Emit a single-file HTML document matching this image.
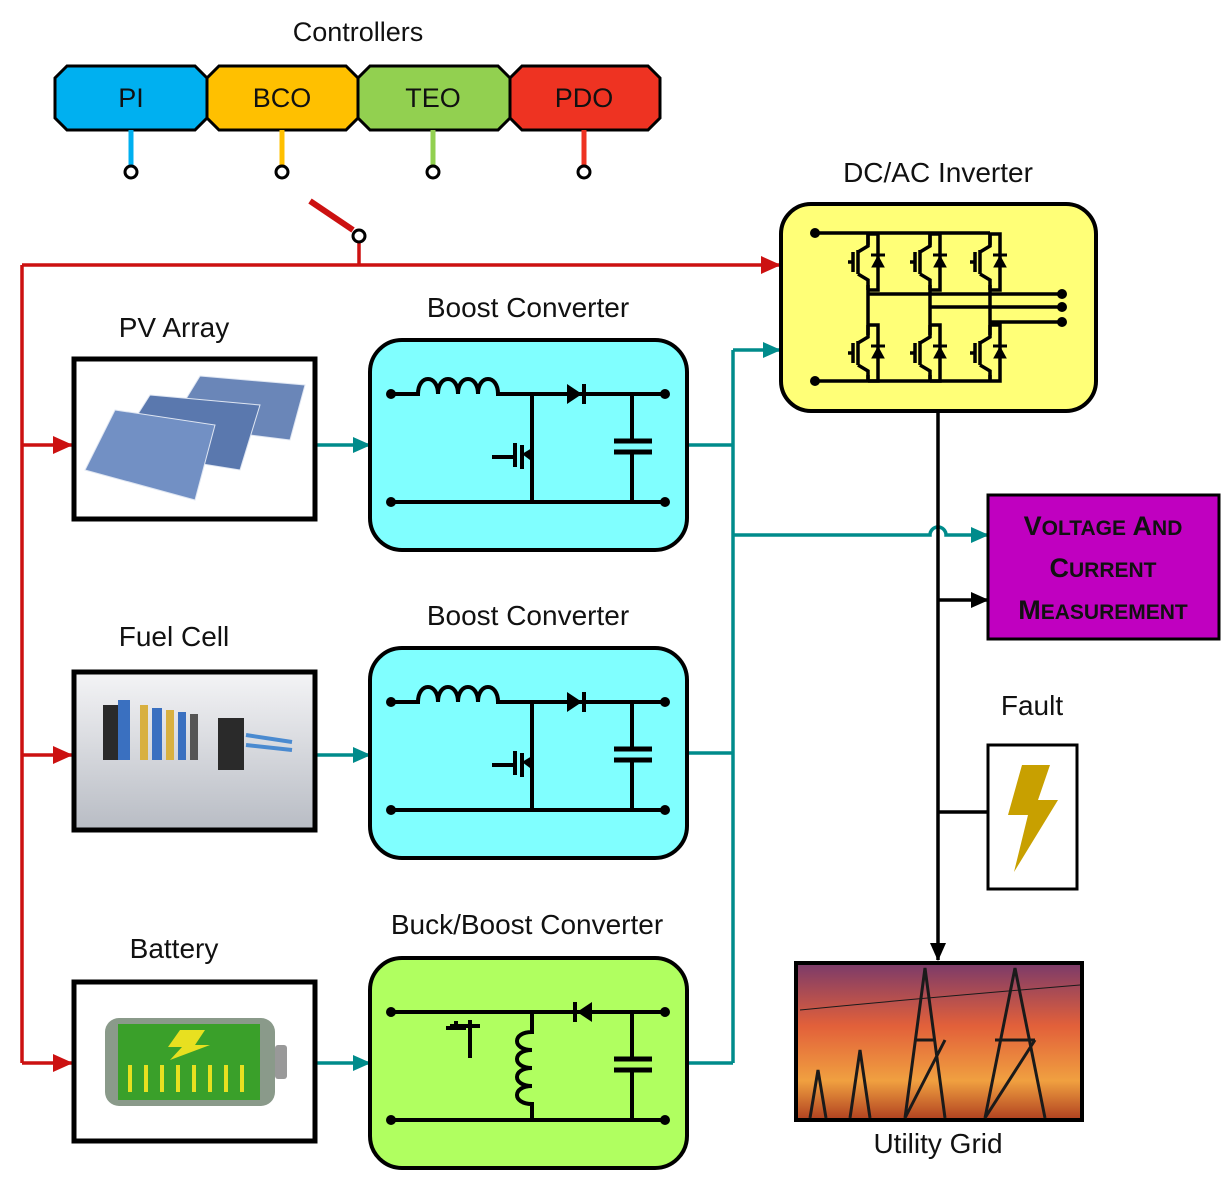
<!DOCTYPE html>
<html><head><meta charset="utf-8"><style>body{margin:0;background:#fff}svg{display:block}text{font-family:"Liberation Sans",sans-serif;fill:#111}</style></head><body>
<svg width="1231" height="1180" viewBox="0 0 1231 1180" xmlns="http://www.w3.org/2000/svg">
<defs>
<marker id="ar" markerWidth="20" markerHeight="18" refX="19" refY="9" orient="auto" markerUnits="userSpaceOnUse"><path d="M0,0 L20,9 L0,18z" fill="#cc1111"/></marker>
<marker id="at" markerWidth="18" markerHeight="16" refX="17" refY="8" orient="auto" markerUnits="userSpaceOnUse"><path d="M0,0 L18,8 L0,16z" fill="#008b8b"/></marker>
<marker id="ak" markerWidth="18" markerHeight="16" refX="17" refY="8" orient="auto" markerUnits="userSpaceOnUse"><path d="M0,0 L18,8 L0,16z" fill="#000"/></marker>
<linearGradient id="sky" x1="0" y1="0" x2="0" y2="1"><stop offset="0" stop-color="#7a3a6a"/><stop offset="0.4" stop-color="#e2603a"/><stop offset="0.75" stop-color="#f0a040"/><stop offset="1" stop-color="#b04020"/></linearGradient>
<linearGradient id="fc" x1="0" y1="0" x2="0" y2="1"><stop offset="0" stop-color="#f4f4f6"/><stop offset="1" stop-color="#b8bcc4"/></linearGradient>
<g id="boost">
<rect x="0" y="0" width="317" height="210" rx="32" fill="currentColor" stroke="#000" stroke-width="4"/>
<g stroke="#000" stroke-width="4" fill="none">
<path d="M21,54 H48 c0,-20 20,-20 20,0 c0,-20 20,-20 20,0 c0,-20 20,-20 20,0 c0,-20 20,-20 20,0 H295"/>
<path d="M21,162 H295"/>
<path d="M162,54 V162"/>
<path d="M262,54 V101 M262,112 V162"/>
<path d="M244,101 H282 M244,112 H282" stroke-width="5"/>
<path d="M122,117 H145 M145,103 V127 M152,105 V129"/>
</g>
<path d="M197,44 L212,54 L197,64z" fill="#000"/><path d="M214,44 V64" stroke="#000" stroke-width="4"/>
<path d="M152,114 L162,108 L160,120z" fill="#000"/>
<circle cx="21" cy="54" r="5"/><circle cx="295" cy="54" r="5"/><circle cx="21" cy="162" r="5"/><circle cx="295" cy="162" r="5"/>
</g>
<g id="igbt" stroke="#000" stroke-width="3.5" fill="none">
<path d="M0,-28 V-16 L-10,-10 M-10,12 L0,18 V28 M-10,-12 V12 M-15,-10 V10 M-20,0 H-15 M0,-28 H10 V28 H0"/>
<path d="M4,5 L10,-6 L16,5z" fill="#000" stroke-width="1"/><path d="M3,-7 H17" stroke-width="3"/>
</g>
</defs>

<text x="358" y="41" font-size="27" text-anchor="middle">Controllers</text>
<g stroke="#000" stroke-width="3">
<path d="M67,66 H195 L207,78 V118 L195,130 H67 L55,118 V78z" fill="#00b0f0"/>
<path d="M219,66 H346 L358,78 V118 L346,130 H219 L207,118 V78z" fill="#ffc000"/>
<path d="M370,66 H498 L510,78 V118 L498,130 H370 L358,118 V78z" fill="#92d050"/>
<path d="M522,66 H648 L660,78 V118 L648,130 H522 L510,118 V78z" fill="#ee3322"/>
</g>
<g font-size="27" text-anchor="middle"><text x="131" y="107">PI</text><text x="282" y="107">BCO</text><text x="433" y="107">TEO</text><text x="584" y="107">PDO</text></g>
<g stroke-width="5"><path d="M131,130 V166" stroke="#00b0f0"/><path d="M282,130 V166" stroke="#ffc000"/><path d="M433,130 V166" stroke="#92d050"/><path d="M584,130 V166" stroke="#ee3322"/></g>
<g fill="#fff" stroke="#000" stroke-width="3"><circle cx="131" cy="172" r="6"/><circle cx="282" cy="172" r="6"/><circle cx="433" cy="172" r="6"/><circle cx="584" cy="172" r="6"/></g>

<g stroke="#cc1111" stroke-width="3.5" fill="none">
<path d="M310,201 L353,230" stroke-width="6"/>
<path d="M359,242 V265"/>
<path d="M22,265 H780" marker-end="url(#ar)"/>
<path d="M22,265 V1063"/>
<path d="M22,445 H72" marker-end="url(#ar)"/>
<path d="M22,755 H72" marker-end="url(#ar)"/>
<path d="M22,1063 H72" marker-end="url(#ar)"/>
</g>
<circle cx="359" cy="236" r="6" fill="#fff" stroke="#000" stroke-width="3"/>

<g stroke="#008b8b" stroke-width="3.5" fill="none">
<path d="M317,445 H370" marker-end="url(#at)"/>
<path d="M317,755 H370" marker-end="url(#at)"/>
<path d="M317,1063 H370" marker-end="url(#at)"/>
<path d="M687,445 H733 M687,753 H733 M687,1063 H733"/>
<path d="M733,350 V1063"/>
<path d="M733,350 H780" marker-end="url(#at)"/>
<path d="M733,535 H930 a8,8 0 0 1 16,0 H988" marker-end="url(#at)"/>
</g>

<g stroke="#000" stroke-width="3.5" fill="none">
<path d="M938,412 V960" marker-end="url(#ak)"/>
<path d="M938,600 H988" marker-end="url(#ak)"/>
<path d="M938,812 H988"/>
</g>

<g font-size="28" text-anchor="middle">
<text x="938" y="182">DC/AC Inverter</text>
<text x="174" y="337">PV Array</text>
<text x="528" y="317">Boost Converter</text>
<text x="174" y="646">Fuel Cell</text>
<text x="528" y="625">Boost Converter</text>
<text x="174" y="958">Battery</text>
<text x="527" y="934">Buck/Boost Converter</text>
<text x="1032" y="715">Fault</text>
<text x="938" y="1153">Utility Grid</text>
</g>

<rect x="74" y="359" width="241" height="160" fill="#fff" stroke="#000" stroke-width="5"/>
<g fill="#6a86b8" stroke="#dfe6f2" stroke-width="1">
<path d="M200,376 L305,385 L290,440 L170,425z"/>
<path d="M150,395 L260,405 L240,470 L115,450z" fill="#5a78ae"/>
<path d="M115,410 L215,425 L195,500 L85,470z" fill="#7290c4"/>
</g>
<rect x="74" y="672" width="241" height="158" fill="url(#fc)" stroke="#000" stroke-width="5"/>
<g>
<rect x="103" y="705" width="22" height="55" fill="#2a2a2a"/><rect x="118" y="700" width="12" height="60" fill="#3a70c0"/>
<rect x="140" y="705" width="8" height="55" fill="#d8b040"/><rect x="152" y="708" width="10" height="52" fill="#3a70c0"/>
<rect x="166" y="710" width="8" height="50" fill="#d8b040"/><rect x="178" y="712" width="8" height="48" fill="#3a70c0"/>
<rect x="190" y="714" width="8" height="46" fill="#555"/><rect x="218" y="718" width="26" height="52" fill="#2a2a2a"/>
<path d="M246,735 L292,742 M246,745 L292,750" stroke="#4a8ad0" stroke-width="4"/>
</g>
<rect x="74" y="982" width="241" height="159" fill="#fff" stroke="#000" stroke-width="5"/>
<rect x="105" y="1018" width="170" height="88" rx="14" fill="#8a9a8a"/>
<rect x="275" y="1045" width="12" height="34" rx="3" fill="#999"/>
<rect x="118" y="1024" width="142" height="76" fill="#3aa02a"/>
<g stroke="#e8e020" stroke-width="4"><path d="M130,1065 V1092 M146,1065 V1092 M162,1065 V1092 M178,1065 V1092 M194,1065 V1092 M210,1065 V1092 M226,1065 V1092 M242,1065 V1092"/></g>
<path d="M180,1030 L205,1030 L195,1045 L210,1045 L170,1060 L182,1047 L168,1047z" fill="#e8e020"/>

<use href="#boost" x="370" y="340" style="color:#80ffff"/>
<use href="#boost" x="370" y="648" style="color:#80ffff"/>
<g transform="translate(370,958)">
<rect x="0" y="0" width="317" height="210" rx="32" fill="#b0ff60" stroke="#000" stroke-width="4"/>
<g stroke="#000" stroke-width="4" fill="none">
<path d="M21,54 H295 M21,162 H295 M262,54 V101 M262,112 V162"/>
<path d="M244,101 H282 M244,112 H282" stroke-width="5"/>
<path d="M162,54 V74 c-20,0 -20,18 0,18 c-20,0 -20,18 0,18 c-20,0 -20,18 0,18 c-20,0 -20,18 0,18 V162"/>
<path d="M76,70 H96 M86,70 V63 M100,62 V100 M80,68 H110"/>
</g>
<path d="M222,44 L207,54 L222,64z" fill="#000"/><path d="M205,44 V64" stroke="#000" stroke-width="4"/>
<circle cx="21" cy="54" r="5"/><circle cx="295" cy="54" r="5"/><circle cx="21" cy="162" r="5"/><circle cx="295" cy="162" r="5"/>
</g>

<rect x="781" y="204" width="315" height="207" rx="30" fill="#ffff77" stroke="#000" stroke-width="4"/>
<g stroke="#000" stroke-width="3.5" fill="none">
<path d="M815,233 H990 M815,381 H990 M868,233 V381 M930,233 V381 M990,233 V381 M868,294 H1062 M930,307 H1062 M990,322 H1062"/>
</g>
<g fill="#000"><circle cx="815" cy="233" r="5"/><circle cx="815" cy="381" r="5"/><circle cx="1062" cy="294" r="5"/><circle cx="1062" cy="307" r="5"/><circle cx="1062" cy="322" r="5"/></g>
<rect x="860" y="245" width="30" height="40" fill="#ffff77"/><rect x="922" y="245" width="30" height="40" fill="#ffff77"/><rect x="982" y="245" width="30" height="40" fill="#ffff77"/>
<rect x="860" y="335" width="30" height="40" fill="#ffff77"/><rect x="922" y="335" width="30" height="40" fill="#ffff77"/><rect x="982" y="335" width="30" height="40" fill="#ffff77"/>
<use href="#igbt" x="868" y="262"/><use href="#igbt" x="930" y="262"/><use href="#igbt" x="990" y="262"/>
<use href="#igbt" x="868" y="353"/><use href="#igbt" x="930" y="353"/><use href="#igbt" x="990" y="353"/>

<rect x="988" y="495" width="231" height="144" fill="#c000c0" stroke="#000" stroke-width="3"/>
<g font-size="27" font-weight="bold" text-anchor="middle" style="fill:#111">
<text x="1103" y="535">V<tspan font-size="21">OLTAGE</tspan> A<tspan font-size="21">ND</tspan></text>
<text x="1103" y="577">C<tspan font-size="21">URRENT</tspan></text>
<text x="1103" y="619">M<tspan font-size="21">EASUREMENT</tspan></text>
</g>

<rect x="988" y="745" width="89" height="144" fill="#fff" stroke="#000" stroke-width="3"/>
<path d="M1022,765 L1050,765 L1038,800 L1058,800 L1014,872 L1028,815 L1008,815z" fill="#c8a000"/>

<rect x="796" y="963" width="286" height="157" fill="url(#sky)" stroke="#000" stroke-width="4"/>
<g stroke="#1a1a1a" stroke-width="3" fill="none">
<path d="M905,1118 L925,968 L945,1118 M915,1040 H935 M905,1118 L945,1040"/>
<path d="M985,1118 L1015,968 L1045,1118 M995,1040 H1035 M985,1118 L1035,1040"/>
<path d="M850,1118 L860,1050 L870,1118 M810,1118 L818,1070 L826,1118"/>
<path d="M800,1010 Q900,1000 1080,985" stroke-width="1"/>
</g>
</svg>
</body></html>
